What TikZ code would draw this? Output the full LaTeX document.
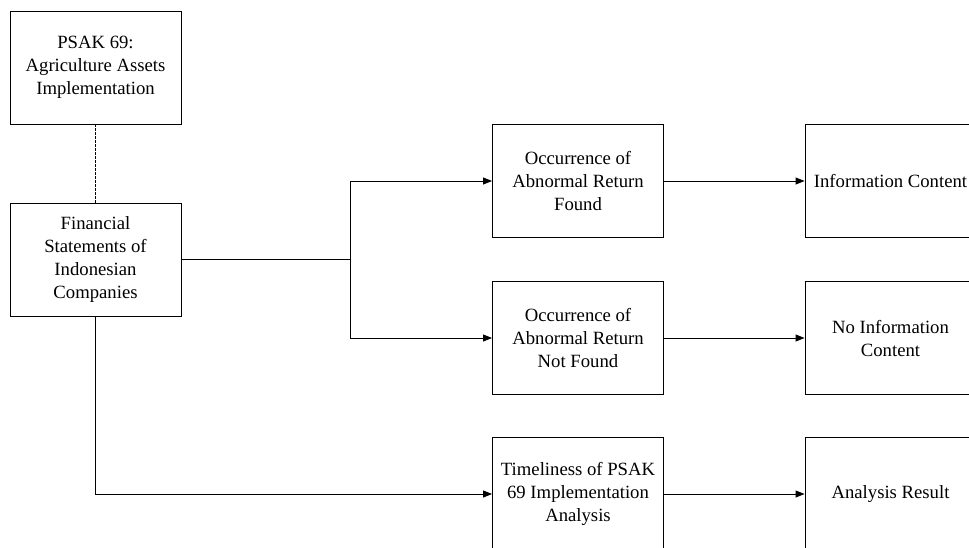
\documentclass[tikz,border=0pt]{standalone}
\usepackage{fontspec}
\setmainfont{Liberation Serif}
\usetikzlibrary{arrows.meta,positioning}
\tikzset{
  every picture/.append style={line join=miter},
  flow box/.style={draw,line width=0.9pt,minimum width=171pt,minimum height=113pt,
    align=center,inner sep=2pt,font=\fontsize{18.7}{23}\selectfont},
  flow line/.style={line width=0.9pt},
  flow arrow/.style={line width=0.9pt,-{Triangle[length=9pt,width=7pt]}},
  flow dashed/.style={line width=0.7pt,dash pattern=on 2.5pt off 1.5pt}
}
\begin{document}
\begin{tikzpicture}[x=1pt,y=-1pt]
  \clip (0,0) rectangle (969,547);
  % left column
  \node[flow box] (psak) at (95.5,67.5) {PSAK 69:\\Agriculture Assets\\Implementation};
  \node[flow box] (fin) at (95.5,259.5) {Financial\\Statements of\\Indonesian\\Companies};
  % middle column
  \node[flow box] (found) at (578,181) {Occurrence of\\Abnormal Return\\Found};
  \node[flow box] (notfound) at (578,338) {Occurrence of\\Abnormal Return\\Not Found};
  \node[flow box] (timely) at (578,494) {Timeliness of PSAK\\69 Implementation\\Analysis};
  % right column
  \node[flow box] (info) at (890.5,181) {Information Content};
  \node[flow box] (noinfo) at (890.5,338) {No Information\\Content};
  \node[flow box] (result) at (890.5,494) {Analysis Result};
  % connectors
  \coordinate (split) at (350,259.5);
  \draw[flow dashed] (psak.south) -- (fin.north);
  \draw[flow line] (fin.east) -- (split);
  \draw[flow arrow] (split) |- (found.west);
  \draw[flow arrow] (split) |- (notfound.west);
  \draw[flow arrow] (fin.south) |- (timely.west);
  \draw[flow arrow] (found.east) -- (info.west);
  \draw[flow arrow] (notfound.east) -- (noinfo.west);
  \draw[flow arrow] (timely.east) -- (result.west);
\end{tikzpicture}
\end{document}
